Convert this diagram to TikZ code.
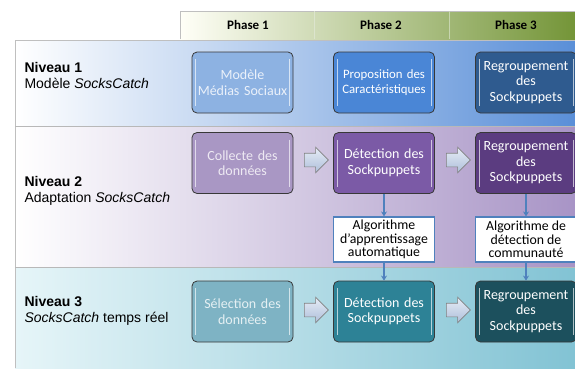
\documentclass[tikz,border=0pt]{standalone}
\usepackage{fontspec}
\setmainfont{Carlito}
\newfontfamily\arialfont{Liberation Sans}
\usetikzlibrary{positioning,shapes.arrows,arrows.meta}

\definecolor{bandeA}{HTML}{5A8FD8}
\definecolor{bandeB}{HTML}{A894C6}
\definecolor{bandeC}{HTML}{82C3D4}
\definecolor{bandeCg}{HTML}{E6F5F8}
\definecolor{entete}{HTML}{749538}
\definecolor{enteteM}{HTML}{D3E2B4}
\definecolor{unA}{HTML}{8DB2E2}
\definecolor{unB}{HTML}{4A86D6}
\definecolor{unC}{HTML}{2F5B8F}
\definecolor{deuxA}{HTML}{A997C4}
\definecolor{deuxB}{HTML}{7B5AA6}
\definecolor{deuxC}{HTML}{5B3C80}
\definecolor{troisA}{HTML}{7EB3C4}
\definecolor{troisB}{HTML}{2D8296}
\definecolor{troisC}{HTML}{1C505D}
\definecolor{lienbleu}{HTML}{4F81BD}
\definecolor{flecheA}{HTML}{E6ECF6}
\definecolor{flecheB}{HTML}{AEBFDA}

\tikzset{
  etape/.style={draw=black!78, line width=0.8pt, rounded corners=5pt,
    minimum width=101pt, minimum height=61pt, text width=99pt, inner sep=0pt,
    align=center, text=white, font=\fontsize{14}{15.5}\selectfont,
    path picture={\draw[white,opacity=0.65,line width=0.7pt]
      ([xshift=3.5pt,yshift=-7pt]path picture bounding box.north west) --
      ([xshift=3.5pt,yshift=7pt]path picture bounding box.south west)
      ([xshift=-3.5pt,yshift=-7pt]path picture bounding box.north east) --
      ([xshift=-3.5pt,yshift=7pt]path picture bounding box.south east);}},
  algo/.style={draw=lienbleu, line width=1.1pt, fill=white, minimum width=101pt,
    minimum height=45pt, inner sep=0pt, align=center, font=\fontsize{13.8}{13.5}\selectfont},
  fleche/.style={single arrow, draw=black!50, line width=0.6pt, top color=flecheA,
    bottom color=flecheB, minimum height=24pt, single arrow head extend=6pt,
    inner sep=0pt, text height=13pt, text depth=0pt},
  lien/.style={draw=lienbleu, line width=1.2pt, -{Stealth[length=5pt,width=6pt]}},
  niveau/.style={anchor=west, align=left, font=\arialfont\fontsize{14}{16}\selectfont},
  phase/.style={font=\bfseries\fontsize{13}{15}\selectfont}
}

\begin{document}
\begin{tikzpicture}[x=1pt,y=-1pt]
\useasboundingbox[fill=white] (0,0) rectangle (575,368);

\shade[left color=white!97!yellow, middle color=enteteM, right color=entete] (180,11) rectangle (575,39);
\draw[black!25] (180,39) -- (180,11) -- (575,11);
\draw[white!75!entete] (314,11) -- (314,39);
\draw[white!60!entete] (449,11) -- (449,39);

\shade[left color=white, right color=bandeA] (15,40) rectangle (575,126);
\shade[left color=white, right color=bandeB] (15,127) rectangle (575,267);
\shade[left color=bandeCg, right color=bandeC] (15,268) rectangle (575,368);
\draw[black!25] (575,40) -- (15,40) -- (15,368);
\draw[black!28, line width=1.5pt] (15,126.5) -- (575,126.5);
\draw[black!28, line width=1.5pt] (15,267.5) -- (575,267.5);

\node[phase] (ph1) at (248,25) {Phase 1};
\node[phase] (ph2) at (381,25) {Phase 2};
\node[phase] (ph3) at (516,25) {Phase 3};

\node[niveau] (niv1) at (21,75) {\textbf{Niveau 1}\\Modèle \textit{SocksCatch}};
\node[niveau] (niv2) at (21,191) {\textbf{Niveau 2}\\Adaptation \textit{SocksCatch}};
\node[niveau] (niv3) at (21,311) {\textbf{Niveau 3}\\\textit{SocksCatch} temps réel};

\node[etape, fill=unA, text=white!82!unA] (modele) at (242.5,82.5) {Modèle\\Médias Sociaux};
\node[etape, fill=unB, font=\fontsize{12.8}{15}\selectfont] (carac) at (384,82.5) {Proposition des\\Caractéristiques};
\node[etape, fill=unC] (regroupA) at (526,82.5) {Regroupement\\des\\Sockpuppets};

\node[etape, fill=deuxA, text=white!80!deuxA] (collecte) at (242.5,163) {Collecte des\\données};
\node[etape, fill=deuxB] (detectA) at (384,163) {Détection des\\Sockpuppets};
\node[etape, fill=deuxC] (regroupB) at (526,163) {Regroupement\\des\\Sockpuppets};

\node[etape, fill=troisA, text=white!80!troisA] (selection) at (242.5,311.5) {Sélection des\\données};
\node[etape, fill=troisB] (detectB) at (384,311.5) {Détection des\\Sockpuppets};
\node[etape, fill=troisC] (regroupC) at (526,311.5) {Regroupement\\des\\Sockpuppets};

\foreach \y/\n in {160/A,310/B}{
  \node[fleche] (fl\n1) at (313,\y) {};
  \node[fleche] (fl\n2) at (455,\y) {};
}

\node[algo] (apprent) at (384,239.5) {Algorithme\\d'apprentissage\\automatique};
\node[algo] (commun) at (526,239.5) {Algorithme de\\détection de\\communauté};

\draw[lien] (detectA) -- (apprent);
\draw[lien] (apprent) -- (detectB);
\draw[lien] (regroupB) -- (commun);
\draw[lien] (commun) -- (regroupC);
\end{tikzpicture}
\end{document}
